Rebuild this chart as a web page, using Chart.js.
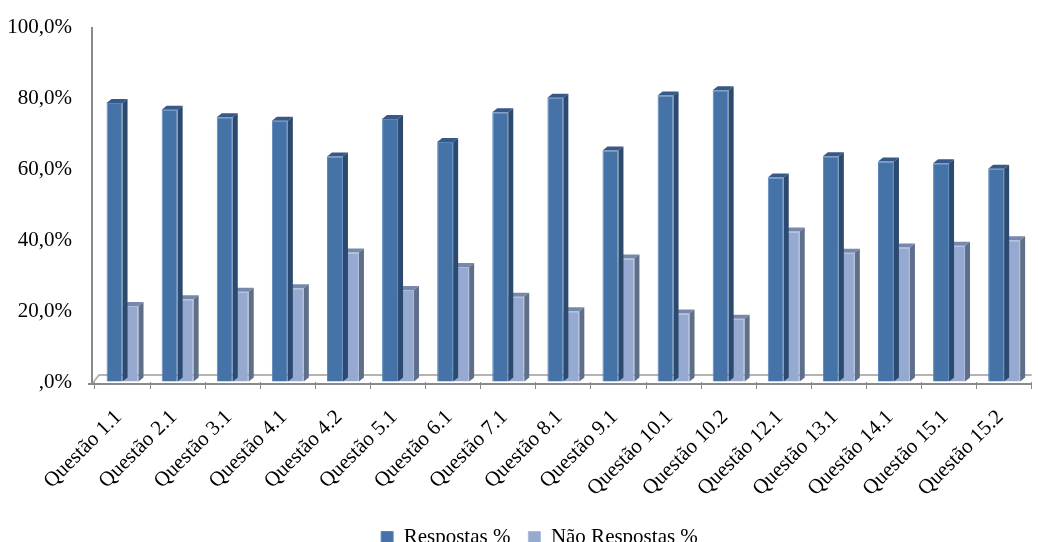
<!DOCTYPE html>
<html lang="pt">

<head>
    <meta charset="UTF-8">
    <title>Respostas por questão</title>
    <script src="https://cdn.jsdelivr.net/npm/chart.js@4/dist/chart.umd.min.js"></script>
    <style>
        html, body {
            margin: 0;
            padding: 0;
            background: white;
        }

        #wrap {
            width: 1038px;
            height: 542px;
        }
    </style>
</head>

<body>
    <div id="wrap">
        <canvas id="myChart"></canvas>
    </div>

    <script>
        const questoes = [
            'Questão 1.1', 'Questão 2.1', 'Questão 3.1', 'Questão 4.1', 'Questão 4.2',
            'Questão 5.1', 'Questão 6.1', 'Questão 7.1', 'Questão 8.1', 'Questão 9.1',
            'Questão 10.1', 'Questão 10.2', 'Questão 12.1', 'Questão 13.1', 'Questão 14.1',
            'Questão 15.1', 'Questão 15.2'
        ]
        const respostas = [78.6, 76.7, 74.6, 73.6, 63.5, 74.1, 67.6, 76.0, 80.1, 65.2, 80.7, 82.2, 57.6, 63.6, 62.1, 61.6, 60.1]
        const naoRespostas = [21.4, 23.3, 25.4, 26.4, 36.5, 25.9, 32.4, 24.0, 19.9, 34.8, 19.3, 17.8, 42.4, 36.4, 37.9, 38.4, 39.9]
        const yTicks = [0, 20, 40, 60, 80, 100]

        const axisGray = '#8a8a8a'
        const fontFamily = '"Liberation Serif", "Times New Roman", serif'

        // fake 3D: side and top faces for every bar, plus the floor
        const DX = 5, DY = 4
        const depth3d = {
            id: 'depth3d',
            afterLayout(chart) {
                // legend sits a bit right of the canvas centre in the original
                chart.legend.left += 42
            },
            beforeDatasetsDraw(chart) {
                const { ctx, chartArea: a } = chart
                ctx.save()
                ctx.strokeStyle = '#b4b4b4'
                ctx.lineWidth = 2
                ctx.beginPath()
                ctx.moveTo(a.left - 3, a.bottom + 2)
                ctx.lineTo(a.left + 4, a.bottom - 7)
                ctx.lineTo(a.right, a.bottom - 7)
                ctx.stroke()
                ctx.strokeStyle = axisGray
                ctx.beginPath()
                ctx.moveTo(a.left - 3, a.top)
                ctx.lineTo(a.left - 3, a.bottom + 2)
                ctx.moveTo(a.left - 7, a.bottom + 2)
                ctx.lineTo(a.right, a.bottom + 2)
                ctx.stroke()
                ctx.restore()
            },
            afterDatasetDraw(chart, args) {
                const { ctx } = chart
                const ds = chart.data.datasets[args.index]
                ctx.save()
                args.meta.data.forEach(bar => {
                    const { x, y, base, width } = bar.getProps(['x', 'y', 'base', 'width'], true)
                    const l = x - width / 2, r = x + width / 2
                    ctx.fillStyle = ds.topColor
                    ctx.beginPath()
                    ctx.moveTo(l, y)
                    ctx.lineTo(l + DX, y - DY)
                    ctx.lineTo(r + DX, y - DY)
                    ctx.lineTo(r, y)
                    ctx.closePath()
                    ctx.fill()
                    ctx.fillStyle = ds.sideColor
                    ctx.beginPath()
                    ctx.moveTo(r, y)
                    ctx.lineTo(r + DX, y - DY)
                    ctx.lineTo(r + DX, base - DY)
                    ctx.lineTo(r, base)
                    ctx.closePath()
                    ctx.fill()
                })
                ctx.restore()
            }
        }

        const chart = new Chart('myChart', {
            type: 'bar',
            data: {
                labels: questoes,
                datasets: [{
                    label: 'Respostas %',
                    data: respostas,
                    backgroundColor: '#4572a7',
                    borderColor: '#5a86ba',
                    borderWidth: 1,
                    topColor: '#36598a',
                    sideColor: '#2c4a70'
                }, {
                    label: 'Não Respostas %',
                    data: naoRespostas,
                    backgroundColor: '#95a9d1',
                    borderColor: '#a9bbdc',
                    borderWidth: 1,
                    topColor: '#7689ad',
                    sideColor: '#5f6f8a'
                }]
            },
            options: {
                responsive: true,
                maintainAspectRatio: false,
                animation: false,
                categoryPercentage: 0.58,
                barPercentage: 1,
                layout: {
                    padding: { top: 27, right: 1, left: 0, bottom: -16 }
                },
                plugins: {
                    tooltip: { enabled: false },
                    legend: {
                        position: 'bottom',
                        labels: {
                            boxWidth: 12,
                            boxHeight: 12,
                            padding: 18,
                            color: '#000',
                            font: { family: fontFamily, size: 21 }
                        }
                    }
                },
                scales: {
                    x: {
                        grid: {
                            drawOnChartArea: false,
                            offset: true,
                            tickLength: 7,
                            color: axisGray,
                            lineWidth: 1
                        },
                        border: { display: false },
                        ticks: {
                            minRotation: 45,
                            maxRotation: 45,
                            autoSkip: false,
                            padding: 16,
                            labelOffset: -4,
                            color: '#000',
                            font: { family: fontFamily, size: 21 }
                        },
                        afterFit: (scale) => { scale.height = 127 }
                    },
                    y: {
                        min: 0,
                        max: 100,
                        afterBuildTicks: (scale) => { scale.ticks = yTicks.map(v => ({ value: v })) },
                        // invisible tick marks push the labels away from the axis
                        grid: { drawOnChartArea: false, tickLength: 20, color: 'rgba(0,0,0,0)' },
                        border: { display: false },
                        ticks: {
                            padding: 3,
                            color: '#000',
                            font: { family: fontFamily, size: 21 },
                            callback: (v) => v === 0 ? ',0%' : v.toFixed(1).replace('.', ',') + '%'
                        },
                        afterFit: (scale) => { scale.width = 95 }
                    }
                }
            },
            plugins: [depth3d]
        });
    </script>
</body>

</html>
